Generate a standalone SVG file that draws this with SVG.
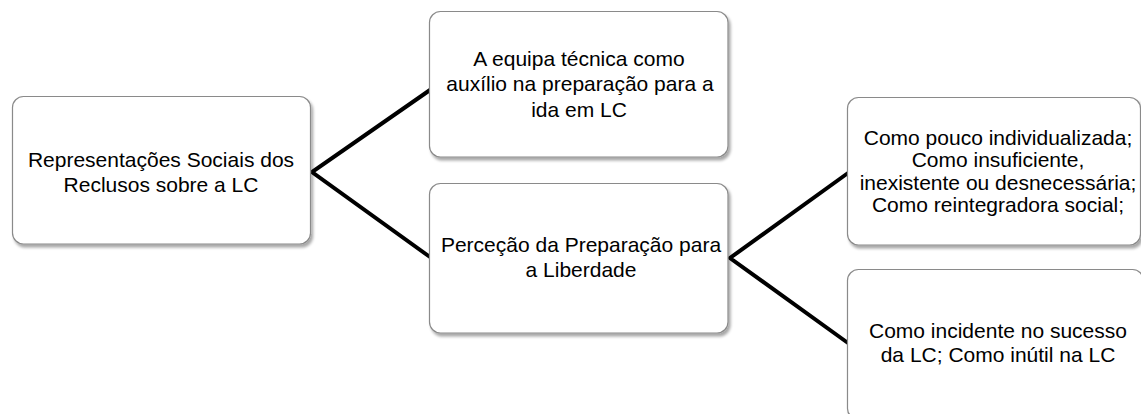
<svg xmlns="http://www.w3.org/2000/svg" width="1141" height="414" viewBox="0 0 1141 414">
<defs>
<filter id="sh" x="-5%" y="-5%" width="115%" height="120%">
<feGaussianBlur in="SourceAlpha" stdDeviation="1.6"/>
<feOffset dx="2" dy="3" result="b"/>
<feComponentTransfer><feFuncA type="linear" slope="0.35"/></feComponentTransfer>
<feMerge><feMergeNode/><feMergeNode in="SourceGraphic"/></feMerge>
</filter>
<style>
.box{fill:#ffffff;stroke:#8a8a8a;stroke-width:1.2;filter:url(#sh)}
.t{font-family:"Liberation Sans",Arial,sans-serif;font-size:21px;fill:#000;text-anchor:middle}
.c{fill:none;stroke:#000;stroke-width:4;stroke-linejoin:miter}
</style>
</defs>
<rect width="1141" height="414" fill="#ffffff"/>
<g id="connectors">
<polyline class="c" points="430,90 312,172 430,257"/>
<polyline class="c" points="848,173 730,258 848,343"/>
</g>
<g id="root">
<rect class="box" x="12.5" y="96.5" width="298" height="147.5" rx="11"/>
<text class="t" x="161" y="167">Representações Sociais dos</text>
<text class="t" x="161" y="192">Reclusos sobre a LC</text>
</g>
<g id="equipa">
<rect class="box" x="429.5" y="11.5" width="298.5" height="145.5" rx="11"/>
<text class="t" x="579" y="66">A equipa técnica como</text>
<text class="t" x="580" y="91">auxílio na preparação para a</text>
<text class="t" x="579" y="117">ida em LC</text>
</g>
<g id="percecao">
<rect class="box" x="429.5" y="183.5" width="298.5" height="149.5" rx="11"/>
<text class="t" x="581" y="252">Perceção da Preparação para</text>
<text class="t" x="581" y="277">a Liberdade</text>
</g>
<g id="pouco">
<rect class="box" x="847.5" y="97.5" width="293" height="147.5" rx="11"/>
<text class="t" x="998" y="145">Como pouco individualizada;</text>
<text class="t" x="998" y="167">Como insuficiente,</text>
<text class="t" x="998" y="190">inexistente ou desnecessária;</text>
<text class="t" x="998" y="212">Como reintegradora social;</text>
</g>
<g id="incidente">
<rect class="box" x="847.5" y="269.5" width="296" height="150" rx="11"/>
<text class="t" x="998" y="338">Como incidente no sucesso</text>
<text class="t" x="998" y="362">da LC; Como inútil na LC</text>
</g>
</svg>
